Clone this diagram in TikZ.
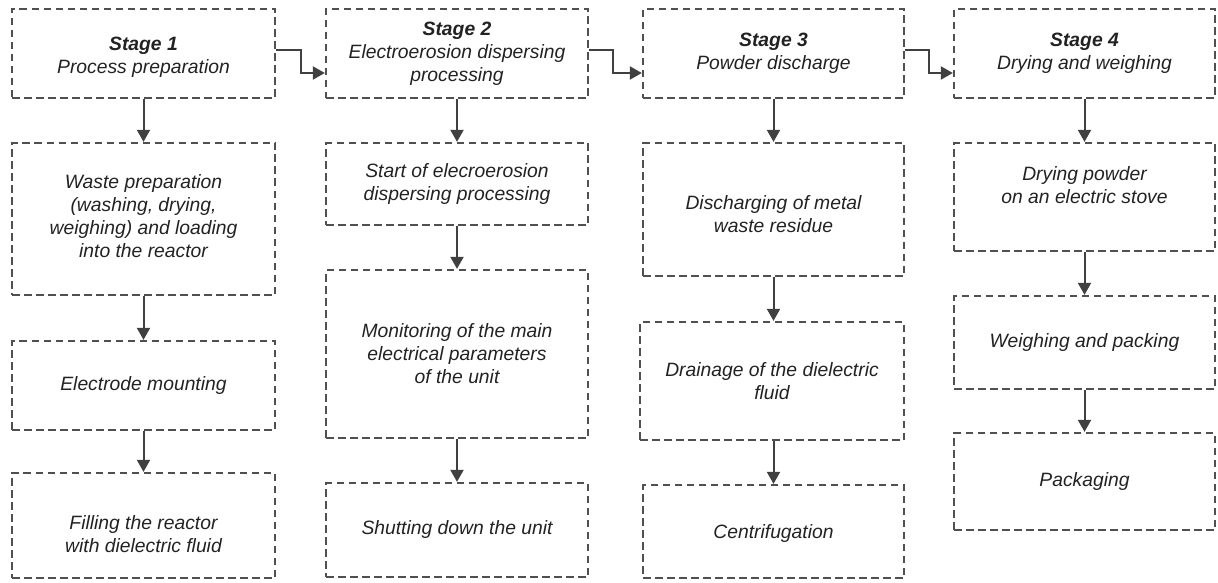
\documentclass[tikz,border=0pt]{standalone}
\usepackage{fontspec}
\setmainfont{Liberation Sans}
\usetikzlibrary{arrows.meta}
\definecolor{linegray}{HTML}{505050}
\definecolor{arrgray}{HTML}{404040}
\definecolor{txt}{HTML}{222222}
\tikzset{
  blk/.style={draw=linegray, line width=2.3pt, dash pattern=on 7.5pt off 4.5pt,
    rectangle, inner sep=0pt},
  lbl/.style={align=center, text=txt, inner sep=0pt,
    font=\fontsize{19.3}{23}\selectfont\itshape},
  arr/.style={draw=arrgray, line width=2pt, -{Triangle[width=13pt,length=12pt]}},
}
\newcommand{\bx}[7]{% name, x1, x2, y1, y2, text yshift, text
  \node[blk, minimum width={#3-#2}, minimum height={#5-#4}] (#1) at ({(#2+#3)/2},{(#4+#5)/2}) {};
  \node[lbl] (#1t) at ([yshift=#6]#1.center) {#7};}
\begin{document}
\begin{tikzpicture}[x=1pt,y=-1pt]
\useasboundingbox (0,0) rectangle (1218,583);
% column 1
\bx{h1}{12}{275}{9}{98}{-4pt}{\textbf{Stage 1}\\Process preparation}
\bx{a2}{12}{275}{143}{295}{3pt}{Waste preparation\\(washing, drying,\\weighing) and loading\\into the reactor}
\bx{a3}{12}{275}{341}{430}{0pt}{Electrode mounting}
\bx{a4}{12}{275}{473}{578}{-9pt}{Filling the reactor\\with dielectric fluid}
% column 2
\bx{h2}{326}{588}{9}{98}{0pt}{\textbf{Stage 2}\\Electroerosion dispersing\\processing}
\bx{b2}{326}{588}{143}{225}{0pt}{Start of elecroerosion\\dispersing processing}
\bx{b3}{326}{588}{270}{438}{0pt}{Monitoring of the main\\electrical parameters\\of the unit}
\bx{b4}{326}{588}{483}{577}{0pt}{Shutting down the unit}
% column 3
\bx{h3}{643}{904}{9}{98}{0pt}{\textbf{Stage 3}\\Powder discharge}
\bx{c2}{643}{904}{143}{276}{-5pt}{Discharging of metal\\waste residue}
\bx{c3}{640}{904}{322}{440}{0pt}{Drainage of the dielectric\\fluid}
\bx{c4}{643}{904}{485}{578}{-2pt}{Centrifugation}
% column 4
\bx{h4}{954}{1215}{9}{98}{0pt}{\textbf{Stage 4}\\Drying and weighing}
\bx{d2}{954}{1215}{143}{251}{12pt}{Drying powder\\on an electric stove}
\bx{d3}{954}{1215}{296}{389}{0pt}{Weighing and packing}
\bx{d4}{954}{1215}{433}{530}{0pt}{Packaging}
% vertical arrows
\draw[arr] (h1.south) -- (a2.north);
\draw[arr] (a2.south) -- (a3.north);
\draw[arr] (a3.south) -- (a4.north);
\draw[arr] (h2.south) -- (b2.north);
\draw[arr] (b2.south) -- (b3.north);
\draw[arr] (b3.south) -- (b4.north);
\draw[arr] (h3.south) -- (c2.north);
\draw[arr] (c2.south) -- (c3.north -| c2.south);
\draw[arr] (c3.south -| c2.south) -- (c4.north);
\draw[arr] (h4.south) -- (d2.north);
\draw[arr] (d2.south) -- (d3.north);
\draw[arr] (d3.south) -- (d4.north);
% stage connectors
\draw[arr] (h1.east |- 0,50) -- (301,50) -- (301,73) -- (h2.west |- 0,73);
\draw[arr] (h2.east |- 0,50) -- (613,50) -- (613,73) -- (h3.west |- 0,73);
\draw[arr] (h3.east |- 0,50) -- (929,50) -- (929,73) -- (h4.west |- 0,73);
\end{tikzpicture}
\end{document}
